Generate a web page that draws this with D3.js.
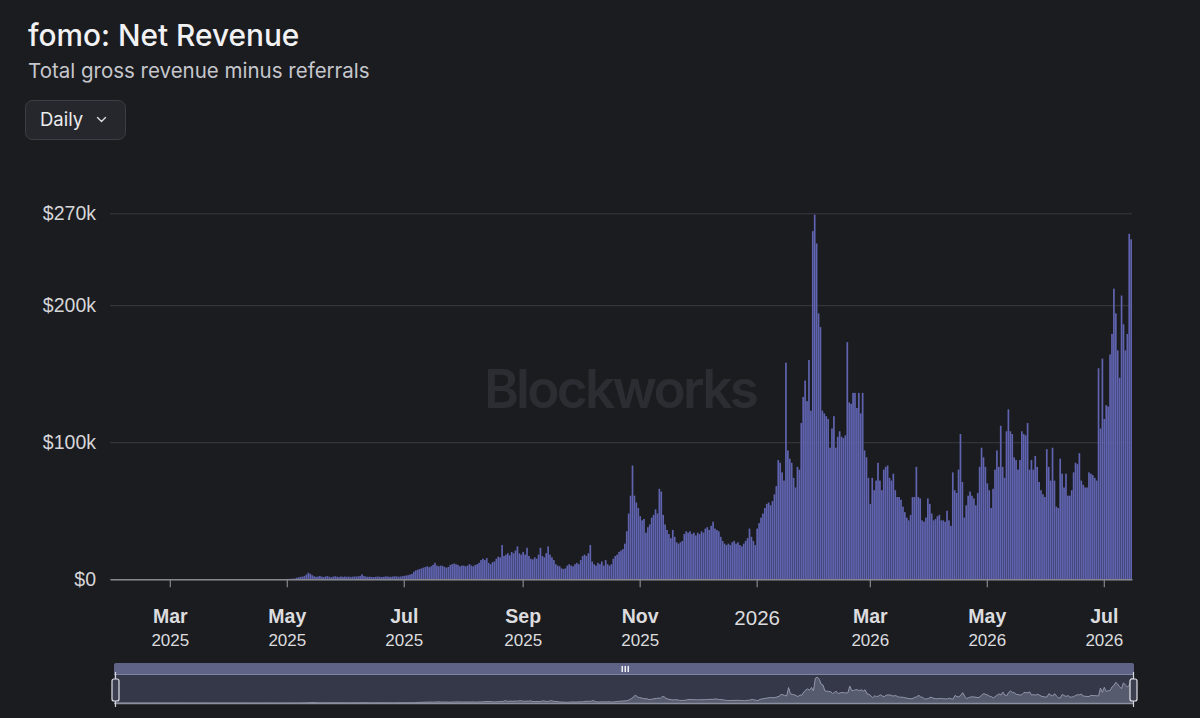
<!DOCTYPE html>
<html><head><meta charset="utf-8">
<script src="https://cdn.jsdelivr.net/npm/d3@7"></script>
<style>html,body{margin:0;padding:0;background:#1b1c20;} svg{display:block;}</style>
</head><body>
<svg id="chart" width="1200" height="718"></svg>
<script>
// ---------- DATA (daily net revenue, thousands of USD) ----------
const startDate = "2025-01-29";
const rev2025_01 = [0,0,0];
const rev2025_02 = [0,0,0,0,0,0,0,0,0,0,0,0,0,0,0,0,0,0,0,0,0,0,0,0,0,0,0,0];
const rev2025_03 = [0,0,0,0,0,0,0,0,0,0,0,0,0,0,0,0,0,0,0,0,0,0,0,0,0,0,0,0,0,0,0];
const rev2025_04 = [0,0,0,0,0,0,0,0,0,0,0,0,0,0,0,0,0,0,0,0,0,0,0,0.1,0.1,0.1,0.2,0.2,0.2,0.2];
const rev2025_05 = [0.3,0.3,0.4,0.5,0.6,1.2,1.5,1.8,2.0,2.5,3.5,4.8,4.0,3.0,2.2,1.8,2.0,2.4,1.9,1.7,2.1,2.3,1.8,1.6,2.0,2.2,1.9,1.7,2.1,1.8,2.0];
const rev2025_06 = [1.8,2.0,1.7,1.9,2.1,2.0,2.2,2.5,3.6,2.4,2.0,1.8,1.9,1.7,1.6,1.8,2.0,1.9,1.7,1.8,2.0,2.1,1.9,1.8,2.0,2.2,2.1,1.9,2.0,2.3];
const rev2025_07 = [2.5,2.8,3.0,3.5,4.0,5.5,6.5,7.0,7.5,8.0,8.5,9.0,9.5,8.8,9.5,10.5,12,10,9.5,10,9.8,9.0,8.5,9.0,10.5,11,11.5,11,10.5,9.5,10];
const rev2025_08 = [10,9.5,10,11,10,9.5,10.5,11,12,14,15,14,15.5,12,11,12.5,13,15,16.5,16,25,17,18,19,17.5,20,19,21,24,19,18];
const rev2025_09 = [20,18,23,17,15,14.5,16,15,18,23,17,16,19,24,18,16,14,11,10,9.5,8,7.5,8,10,11,10,9.5,11,12,11];
const rev2025_10 = [14,17,18,17,19,25,13,11,10,12,11,13,10,14,11,10,11,15,17,18,20,21,22,26,35,48,61,83,61,56,52];
const rev2025_11 = [46,43,44,34,38,40,45,47,51,48,66,64,47,40,36,33,30,36,31,27,26,27,28,33,35,34,35,33,34,32];
const rev2025_12 = [34,33,35,34,37,38,36,39,42,37,36,35,31,28,26,25,26,25,27,28,26,27,25,24,26,28,30,37,31,28,25];
const rev2026_01 = [37,41,45,48,52,55,56,54,57,62,68,87,85,78,72,158,94,88,85,74,67,82,80,114,133,145,130,160,123,254,266];
const rev2026_02 = [245,194,184,123,121,119,117,96,110,119,96,104,108,104,103,105,173,129,128,136,136,125,136,121,136,94,89,74];
const rev2026_03 = [55,74,65,72,85,72,65,80,82,83,74,72,77,65,60,60,58,53,49,45,43,47,60,60,82,60,59,43,42,45,59];
const rev2026_04 = [55,48,43,44,46,47,43,43,42,50,43,39,78,65,63,80,106,71,45,54,61,64,61,59,54,63,82,96,89,82];
const rev2026_05 = [70,65,52,66,80,94,82,112,82,74,108,124,108,106,89,87,80,87,108,106,105,114,80,87,80,90,82,71,65,62,60];
const rev2026_06 = [95,82,72,96,72,53,52,88,77,67,77,61,61,65,78,85,84,92,72,69,67,67,78,77,76,74,72,154,110,161];
const rev2026_07 = [117,127,126,164,179,212,194,167,147,207,186,167,179,252,248];

const yTickValues = [0, 100000, 200000, 267000];
const yTickLabels = ["$0", "$100k", "$200k", "$270k"];
const xTickDates  = ["2025-03-01","2025-05-01","2025-07-01","2025-09-01","2025-11-01","2026-01-01","2026-03-01","2026-05-01","2026-07-01"];
const xTickMonths = ["Mar","May","Jul","Sep","Nov","2026","Mar","May","Jul"];
const xTickYears  = ["2025","2025","2025","2025","2025","","2026","2026","2026"];

const title = "fomo: Net Revenue";
const subtitle = "Total gross revenue minus referrals";

// ---------- BUILD ----------
const months = [rev2025_01,rev2025_02,rev2025_03,rev2025_04,rev2025_05,rev2025_06,rev2025_07,rev2025_08,rev2025_09,rev2025_10,rev2025_11,rev2025_12,
                rev2026_01,rev2026_02,rev2026_03,rev2026_04,rev2026_05,rev2026_06,rev2026_07];
const values = [].concat(...months);
const parse = d3.utcParse("%Y-%m-%d");
const fmt = d3.utcFormat("%Y-%m-%d");
const t0 = parse(startDate);
const data = values.map((v, i) => { const dt = d3.utcDay.offset(t0, i); return {date: dt, key: fmt(dt), value: v * 1000}; });

const svg = d3.select("#chart");
const W = 1200, H = 718;
svg.append("rect").attr("width", W).attr("height", H).attr("fill", "#1b1c20");

const pL = 110, pR = 1132, pT = 213.3, pB = 579.3;
const x = d3.scaleBand().domain(data.map(d => d.key)).range([pL, pR]).paddingInner(0.12).paddingOuter(0);
const y = d3.scaleLinear().domain([0, yTickValues[yTickValues.length - 1]]).range([pB, pT]);

// Title area
svg.append("text").attr("x", 28).attr("y", 46).text(title)
  .attr("font-family", "Inter, 'Noto Sans', sans-serif").attr("font-size", 29.8).attr("font-weight", 500).attr("fill", "#f2f2f4");
svg.append("text").attr("x", 28).attr("y", 78).text(subtitle)
  .attr("font-family", "Inter, 'Noto Sans', sans-serif").attr("font-size", 20.5).attr("fill", "#c6c7cc");

// Dropdown
const dd = svg.append("g");
dd.append("rect").attr("x", 25.5).attr("y", 100.5).attr("width", 100).attr("height", 39).attr("rx", 7)
  .attr("fill", "#26272d").attr("stroke", "#3d3e45");
dd.append("text").attr("x", 40).attr("y", 126).text("Daily")
  .attr("font-family", "Inter, 'Noto Sans', sans-serif").attr("font-size", 18.5).attr("fill", "#ececee");
dd.append("path").attr("d", "M97.5,117.5 L101.5,121.5 L105.5,117.5").attr("fill", "none")
  .attr("stroke", "#dcdce0").attr("stroke-width", 1.4).attr("stroke-linecap", "round").attr("stroke-linejoin", "round");

// Watermark
svg.append("text").attr("x", 620).attr("y", 408).attr("text-anchor", "middle").text("Blockworks")
  .attr("font-family", "Inter, 'Noto Sans', sans-serif").attr("font-size", 53).attr("font-weight", 600)
  .attr("fill", "#2c2d33").attr("letter-spacing", -2.7);

// Y grid + labels
const yAxis = d3.axisLeft(y).tickValues(yTickValues).tickSize(-(pR - pL)).tickPadding(14)
  .tickFormat((d, i) => yTickLabels[i]);
const gy = svg.append("g").attr("transform", `translate(${pL},0)`).call(yAxis);
gy.select(".domain").remove();
gy.selectAll(".tick line").attr("stroke", "#3a3b41").attr("stroke-width", 1);
gy.selectAll(".tick text").attr("fill", "#d6d6d9").attr("font-size", 19.5)
  .attr("font-family", "'Liberation Sans', Arial, Helvetica, sans-serif");

// Bars
svg.append("g").selectAll("rect").data(data).join("rect")
  .attr("x", d => x(d.key)).attr("width", x.bandwidth())
  .attr("y", d => y(d.value)).attr("height", d => y(0) - y(d.value))
  .attr("fill", "#6064b0");

// X axis
const xAxis = d3.axisBottom(x).tickValues(xTickDates).tickSize(8).tickSizeOuter(0).tickFormat("");
const gx = svg.append("g").attr("transform", `translate(0,${pB})`).call(xAxis);
gx.select(".domain").attr("stroke", "#86878d").attr("stroke-width", 1.6);
gx.selectAll(".tick line").attr("stroke", "#86878d").attr("stroke-width", 1.2);
gx.selectAll(".tick").each(function (d, i) {
  const g = d3.select(this);
  if (xTickYears[i]) {
    g.append("text").attr("y", 44).attr("text-anchor", "middle").text(xTickMonths[i])
      .attr("font-family", "'Liberation Sans', Arial, Helvetica, sans-serif").attr("font-size", 19.5).attr("font-weight", 700).attr("fill", "#dcdcdf");
    g.append("text").attr("y", 66.5).attr("text-anchor", "middle").text(xTickYears[i])
      .attr("font-family", "'Liberation Sans', Arial, Helvetica, sans-serif").attr("font-size", 17).attr("fill", "#dcdcdf");
  } else {
    g.append("text").attr("y", 46).attr("text-anchor", "middle").text(xTickMonths[i])
      .attr("font-family", "'Liberation Sans', Arial, Helvetica, sans-serif").attr("font-size", 20.5).attr("fill", "#dcdcdf");
  }
});

// Navigator
const nL = 114, nR = 1134;
const nav = svg.append("g");
nav.append("rect").attr("x", nL).attr("y", 663).attr("width", nR - nL).attr("height", 12).attr("rx", 2).attr("fill", "#5f6385");
nav.append("rect").attr("x", nL).attr("y", 675).attr("width", nR - nL).attr("height", 29).attr("fill", "#343848");
const x2 = d3.scaleUtc().domain(d3.extent(data, d => d.date)).range([nL + 1, nR - 1]);
const y2 = d3.scaleLinear().domain(y.domain()).range([703, 677]);
nav.append("path").datum(data)
  .attr("d", d3.area().x(d => x2(d.date)).y0(703).y1(d => y2(d.value)))
  .attr("fill", "#575b6e");
nav.append("path").datum(data)
  .attr("d", d3.line().x(d => x2(d.date)).y(d => y2(d.value)))
  .attr("fill", "none").attr("stroke", "#9497ab").attr("stroke-width", 1);
nav.append("line").attr("x1", nL).attr("x2", nR).attr("y1", 674.5).attr("y2", 674.5).attr("stroke", "#8084a3").attr("stroke-width", 1);
nav.append("line").attr("x1", nL).attr("x2", nR).attr("y1", 703.5).attr("y2", 703.5).attr("stroke", "#8c8f9e").attr("stroke-width", 1.5);
// grip
[0, 1, 2].forEach(k => nav.append("rect").attr("x", 621.5 + k * 3).attr("y", 666).attr("width", 1.5).attr("height", 6).attr("fill", "#f0f0f4"));
// handles
[nL + 1.5, nR - 0.5].forEach(hx => {
  nav.append("line").attr("x1", hx).attr("x2", hx).attr("y1", 672).attr("y2", 707).attr("stroke", "#d6d7de").attr("stroke-width", 1.2);
  nav.append("rect").attr("x", hx - 3.5).attr("y", 679).attr("width", 7).attr("height", 22).attr("rx", 2)
    .attr("fill", "#3b3f50").attr("stroke", "#e2e3ea").attr("stroke-width", 1.2);
});
</script>
</body></html>
